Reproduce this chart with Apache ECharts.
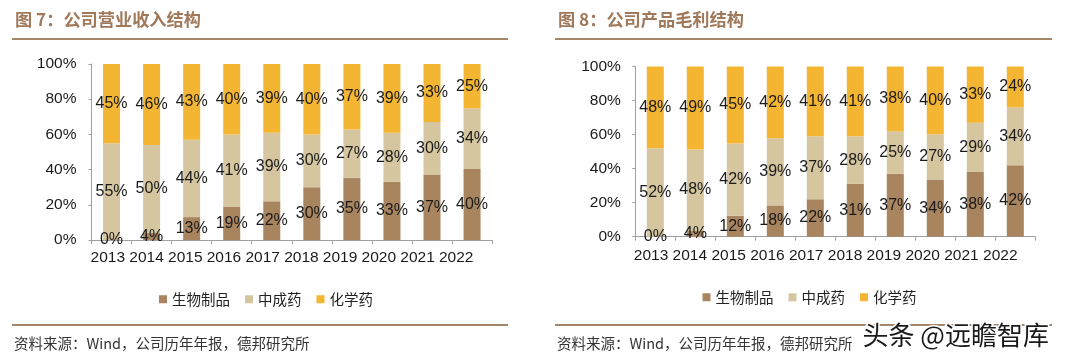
<!DOCTYPE html>
<html>
<head>
<meta charset="utf-8">
<script src="https://cdn.jsdelivr.net/npm/echarts@6/dist/echarts.min.js"></script>
<style>
html,body{margin:0;padding:0;background:#fff;}
#c{width:1080px;height:359px;}
</style>
</head>
<body>
<div id="c"></div>
<script>
// ---- data ----
const years = ['2013','2014','2015','2016','2017','2018','2019','2020','2021','2022'];
const seriesNames = ['生物制品','中成药','化学药'];
// 图7 公司营业收入结构 (%)
const revBio  = [0, 4, 13, 19, 22, 30, 35.4, 33, 37, 40.4];
const revTcm  = [55, 50, 44, 41, 39, 30, 27.4, 28, 30, 34.4];
const revChem = [45, 46, 43, 40, 39, 40, 37.2, 39, 33, 25.2];
// 图8 公司产品毛利结构 (%)
const gpBio  = [0, 3.6, 12.4, 18.4, 22, 31, 37, 33.6, 38, 42];
const gpTcm  = [52, 47.6, 42.4, 39.4, 37, 28, 25, 26.6, 29, 34];
const gpChem = [48, 48.8, 45.2, 42.2, 41, 41, 38, 39.8, 33, 24];
const yTicks = [0, 20, 40, 60, 80, 100];
const title1 = '图 7：公司营业收入结构';
const title2 = '图 8：公司产品毛利结构';
const sourceText = '资料来源：Wind，公司历年年报，德邦研究所';
const watermark = '头条 @远瞻智库';

// ---- styles ----
const colors = ['#a8845f', '#d6c6a0', '#f4b532'];
const brown = '#a6866b';
const numFont = '"Liberation Sans", Arial, sans-serif';
const cjkFont = '"Noto Sans CJK SC", sans-serif';

function valueAxis(gi, margin) {
  return {
    type: 'value', gridIndex: gi, min: yTicks[0], max: yTicks[yTicks.length-1],
    interval: yTicks[1] - yTicks[0],
    axisLine: {show: true, lineStyle: {color: '#a0a0a0', width: 1}},
    axisTick: {show: true, length: 3, lineStyle: {color: '#a0a0a0'}},
    splitLine: {show: false},
    axisLabel: {formatter: '{value}%', color: '#1a1a1a', fontSize: 15.5, fontFamily: numFont, margin: margin}
  };
}
function catAxis(gi) {
  return {
    type: 'category', gridIndex: gi, data: years,
    axisLine: {show: true, lineStyle: {color: '#a0a0a0', width: 1}},
    axisTick: {show: true, length: 4, lineStyle: {color: '#a0a0a0'}},
    axisLabel: {show: false}
  };
}
function labelAxis(gi, margin) {
  return {
    type: 'category', gridIndex: gi, data: years,
    axisLine: {show: false}, axisTick: {show: false}, splitLine: {show: false},
    axisLabel: {show: true, color: '#1a1a1a', fontSize: 15.5, fontFamily: numFont, margin: margin, interval: 0}
  };
}
function hiddenY(gi) {
  return {type: 'value', gridIndex: gi, show: false, min: 0, max: 100};
}
function barSeries(name, data, idx, axisIdx, stack) {
  return {
    name: name, type: 'bar', stack: stack, data: data,
    xAxisIndex: axisIdx, yAxisIndex: axisIdx,
    barWidth: 17,
    itemStyle: {color: colors[idx]},
    label: {
      show: true, position: 'inside', color: '#1a1a1a', fontSize: 16, fontFamily: numFont,
      formatter: p => Math.round(p.value) + '%'
    },
    emphasis: {disabled: true}
  };
}
function legend(left, top) {
  return {
    left: left, top: top, itemWidth: 8, itemHeight: 8, itemGap: 15, icon: 'rect',
    data: seriesNames,
    textStyle: {fontSize: 14.5, color: '#222', fontFamily: cjkFont},
    selectedMode: false
  };
}

const chart = echarts.init(document.getElementById('c'), null, {renderer: 'canvas'});
chart.setOption({
  animation: false,
  backgroundColor: '#ffffff',
  grid: [
    {left: 91.5, top: 64, width: 400.6, height: 176},
    {left: 635.3, top: 66.5, width: 400, height: 170.2},
    {left: 88.5, top: 64, width: 387.1, height: 176},
    {left: 631.6, top: 66.5, width: 388.1, height: 170.2}
  ],
  xAxis: [catAxis(0), catAxis(1), labelAxis(2, 10), labelAxis(3, 11)],
  yAxis: [valueAxis(0, 15), valueAxis(1, 14.5), hiddenY(2), hiddenY(3)],
  legend: [legend(154, 287), legend(697.5, 285)],
  series: [
    barSeries(seriesNames[0], revBio, 0, 0, 'rev'),
    barSeries(seriesNames[1], revTcm, 1, 0, 'rev'),
    barSeries(seriesNames[2], revChem, 2, 0, 'rev'),
    barSeries(seriesNames[0], gpBio, 0, 1, 'gp'),
    barSeries(seriesNames[1], gpTcm, 1, 1, 'gp'),
    barSeries(seriesNames[2], gpChem, 2, 1, 'gp')
  ],
  graphic: [
    {type: 'text', left: 15, top: 11, style: {text: title1, fill: '#a0785a', font: 'bold 17.2px ' + cjkFont}},
    {type: 'text', left: 558, top: 11, style: {text: title2, fill: '#a0785a', font: 'bold 17.2px ' + cjkFont}},
    {type: 'line', shape: {x1: 12, y1: 39, x2: 508, y2: 39}, style: {stroke: brown, lineWidth: 2}},
    {type: 'line', shape: {x1: 555, y1: 39, x2: 1052, y2: 39}, style: {stroke: brown, lineWidth: 2}},
    {type: 'line', shape: {x1: 12, y1: 325, x2: 508, y2: 325}, style: {stroke: brown, lineWidth: 2}},
    {type: 'line', shape: {x1: 555, y1: 325, x2: 1052, y2: 325}, style: {stroke: brown, lineWidth: 2}},
    {type: 'text', left: 14, top: 336, style: {text: sourceText, fill: '#333', font: '14.5px ' + cjkFont}},
    {type: 'text', left: 557, top: 336, style: {text: sourceText, fill: '#333', font: '14.5px ' + cjkFont}},
    {type: 'text', left: 861, top: 321, z: 100, style: {text: watermark, fill: '#1a1a1a', stroke: '#ffffff', lineWidth: 3, font: '26px ' + cjkFont}}
  ]
});
</script>
</body>
</html>
